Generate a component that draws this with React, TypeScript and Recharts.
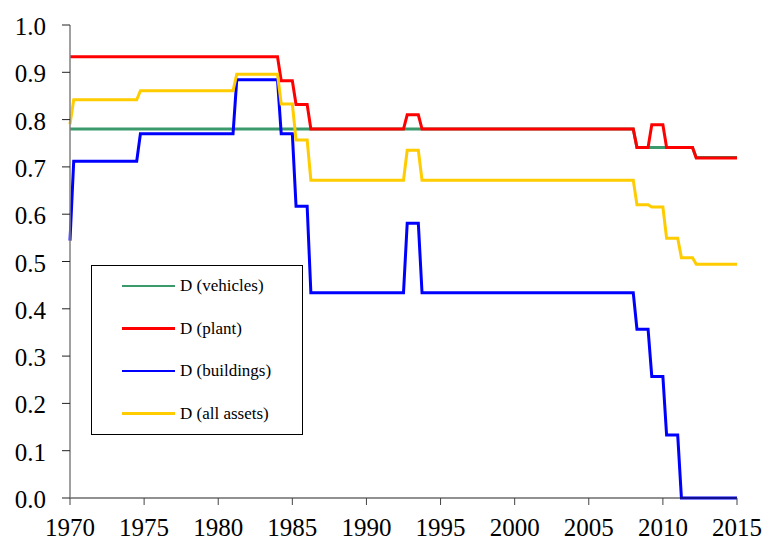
import { LineChart, Line, XAxis, YAxis, Legend } from "recharts";

// [year, D] breakpoints; steps ramp over one quarter
const vehicles: [number, number][] = [
  [1970, 0.78], [2008, 0.78], [2008.25, 0.741], [2012, 0.741], [2012.25, 0.72], [2015, 0.72],
];

const plant: [number, number][] = [
  [1970, 0.933], [1984, 0.933], [1984.25, 0.882], [1985, 0.882], [1985.25, 0.832],
  [1986, 0.832], [1986.25, 0.78], [1992.5, 0.78], [1992.75, 0.81], [1993.5, 0.81],
  [1993.75, 0.78], [2008, 0.78], [2008.25, 0.741], [2009, 0.741], [2009.25, 0.789],
  [2010, 0.789], [2010.25, 0.741], [2012, 0.741], [2012.25, 0.719], [2015, 0.719],
];

const buildings: [number, number][] = [
  [1970, 0.544], [1970.25, 0.712], [1974.5, 0.712], [1974.75, 0.77], [1981, 0.77],
  [1981.25, 0.884], [1984, 0.884], [1984.25, 0.77], [1985, 0.77], [1985.25, 0.617],
  [1986, 0.617], [1986.25, 0.434], [1992.5, 0.434], [1992.75, 0.581], [1993.5, 0.581],
  [1993.75, 0.434], [2008, 0.434], [2008.25, 0.357], [2009, 0.357], [2009.25, 0.257],
  [2010, 0.257], [2010.25, 0.133], [2011, 0.133], [2011.25, 0], [2015, 0],
];

const allAssets: [number, number][] = [
  [1970, 0.79], [1970.25, 0.842], [1974.5, 0.842], [1974.75, 0.861], [1981, 0.861],
  [1981.25, 0.896], [1984, 0.896], [1984.25, 0.833], [1985, 0.833], [1985.25, 0.757],
  [1986, 0.757], [1986.25, 0.672], [1992.5, 0.672], [1992.75, 0.735], [1993.5, 0.735],
  [1993.75, 0.672], [2008, 0.672], [2008.25, 0.62], [2009, 0.62], [2009.25, 0.615],
  [2010, 0.615], [2010.25, 0.549], [2011, 0.549], [2011.25, 0.508], [2012, 0.508],
  [2012.25, 0.494], [2015, 0.494],
];

const xTicks = [1970, 1975, 1980, 1985, 1990, 1995, 2000, 2005, 2010, 2015];
const yTicks = [0, 0.1, 0.2, 0.3, 0.4, 0.5, 0.6, 0.7, 0.8, 0.9, 1.0];

const toRows = (pts: [number, number][]) => pts.map(([year, d]) => ({ year, d }));

const series = [
  { name: "D (vehicles)", data: vehicles, color: "#3a9a6c" },
  { name: "D (plant)", data: plant, color: "#ff0000" },
  { name: "D (buildings)", data: buildings, color: "#0000ff" },
  { name: "D (all assets)", data: allAssets, color: "#ffcc00" },
];

const font = "Liberation Serif";

const renderXTick = (props: any) => {
  const { x, y, payload } = props;
  return (
    <text x={x} y={y + 17} textAnchor="middle" fill="#000" fontFamily={font} fontSize={25}>
      {payload.value}
    </text>
  );
};

const renderYTick = (props: any) => {
  const { x, y, payload } = props;
  return (
    <text x={x} y={y + 10} textAnchor="end" fill="#000" fontFamily={font} fontSize={25}>
      {Number(payload.value).toFixed(1)}
    </text>
  );
};

function LegendBox() {
  return (
    <div
      style={{
        width: 212,
        height: 170,
        border: "1px solid #000",
        boxSizing: "border-box",
        background: "#fff",
        position: "relative",
        fontFamily: font,
        fontSize: 17,
        color: "#000",
      }}
    >
      {series.map((s, i) => (
        <div
          key={s.name}
          style={{
            position: "absolute",
            left: 30,
            top: 20 + i * 42.5 - 10,
            height: 20,
            display: "flex",
            alignItems: "center",
            whiteSpace: "nowrap",
          }}
        >
          <div style={{ width: 53, height: 2.5, background: s.color, marginRight: 5 }} />
          <span>{s.name}</span>
        </div>
      ))}
    </div>
  );
}

export default function App() {
  return (
    <div style={{ position: "absolute", left: 0, top: 0, background: "#fff", fontFamily: font }}>
      <LineChart
        width={764}
        height={539}
        margin={{ top: 25, right: 27, bottom: 0, left: 0 }}
        style={{ fontFamily: font }}
      >
        <XAxis
          dataKey="year"
          type="number"
          domain={[1970, 2015]}
          ticks={xTicks}
          allowDuplicatedCategory={false}
          height={41}
          tickSize={7}
          tickMargin={14}
          axisLine={{ stroke: "#222" }}
          tickLine={{ stroke: "#444" }}
          tick={renderXTick}
        />
        <YAxis
          type="number"
          domain={[0, 1]}
          ticks={yTicks}
          width={70}
          tickSize={8}
          tickMargin={16}
          axisLine={{ stroke: "#808080", strokeWidth: 1.5 }}
          tickLine={{ stroke: "#222" }}
          tick={renderYTick}
        />
        <Legend
          layout="vertical"
          align="center"
          verticalAlign="middle"
          content={() => <LegendBox />}
          wrapperStyle={{ left: 91, top: 265, width: 212, height: 170 }}
        />
        {series.map((s) => (
          <Line
            key={s.name}
            name={s.name}
            data={toRows(s.data)}
            dataKey="d"
            type="linear"
            stroke={s.color}
            strokeWidth={3}
            dot={false}
            activeDot={false}
            isAnimationActive={false}
          />
        ))}
      </LineChart>
    </div>
  );
}
